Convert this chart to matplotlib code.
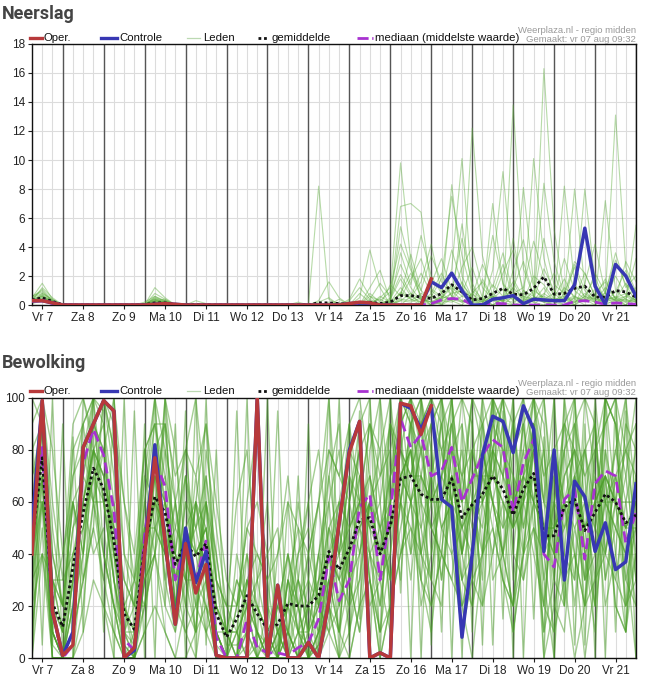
import numpy as np
import matplotlib
matplotlib.use("Agg")
import matplotlib.pyplot as plt
from matplotlib.lines import Line2D

plt.rcParams['font.family'] = ['Liberation Sans', 'DejaVu Sans']

# time axis: 6-hourly steps, vr 7 aug 06:00 .. za 22 aug 00:00
day_labels = ["Vr 7", "Za 8", "Zo 9", "Ma 10", "Di 11", "Wo 12", "Do 13", "Vr 14",
              "Za 15", "Zo 16", "Ma 17", "Di 18", "Wo 19", "Do 20", "Vr 21"]
n_steps = 60
noon_idx = [1 + 4 * k for k in range(15)]
midnight_idx = [3 + 4 * k for k in range(15)]

# ---------------- Neerslag (mm) ----------------
rain_oper = [0.3, 0.3, 0.15, 0, 0, 0, 0, 0, 0, 0,
             0, 0, 0.05, 0.1, 0.05, 0, 0, 0, 0, 0,
             0, 0, 0, 0, 0, 0, 0, 0, 0, 0,
             0, 0.1, 0.2, 0.15, 0, 0, 0, 0, 0, 1.8]
rain_ctrl = [0.3, 0.3, 0.15, 0, 0, 0, 0, 0, 0, 0,
             0, 0, 0.05, 0.1, 0.05, 0, 0, 0, 0, 0,
             0, 0, 0, 0, 0, 0, 0, 0, 0, 0,
             0, 0.1, 0.15, 0.1, 0, 0, 0, 0, 0, 1.6,
             1.2, 2.2, 1.0, 0, 0, 0.4, 0.5, 0.65, 0.1, 0.4,
             0.35, 0.3, 0.3, 1.4, 5.3, 1.3, 0.05, 2.8, 2.0, 0.6]
rain_mean = [0.35, 0.5, 0.25, 0.02, 0, 0, 0, 0, 0, 0,
             0, 0.03, 0.15, 0.15, 0.05, 0.02, 0.05, 0.02, 0, 0,
             0, 0, 0, 0, 0, 0, 0.02, 0.02, 0.15, 0.15,
             0.1, 0.05, 0.15, 0.2, 0.1, 0.2, 0.65, 0.65, 0.55, 0.45,
             0.8, 1.4, 0.9, 0.35, 0.45, 0.8, 1.15, 0.75, 0.7, 1.15,
             1.95, 0.75, 0.8, 1.15, 1.3, 0.55, 0.55, 1.0, 0.9, 0.55]
rain_median = [0.25, 0.3, 0.1, 0, 0, 0, 0, 0, 0, 0,
               0, 0, 0, 0, 0, 0, 0, 0, 0, 0,
               0, 0, 0, 0, 0, 0, 0, 0, 0, 0,
               0, 0, 0, 0, 0, 0, 0, 0, 0, 0.1,
               0.35, 0.45, 0.4, 0, 0.05, 0.1, 0.1, 0, 0, 0,
               0, 0, 0, 0.25, 0.3, 0.2, 0.05, 0.15, 0.1, 0.05]
rain_members = [
    [0.5, 1.5, 0.4, 0, 0, 0, 0, 0, 0, 0, 0, 0.2, 0.6, 0.3, 0, 0, 0.1, 0, 0, 0,
     0, 0, 0, 0, 0, 0, 0, 0, 0.2, 0.5, 0, 0.3, 1.2, 0.4, 0, 0.5, 2.1, 0.8, 0, 1.5,
     3.2, 1.0, 0.3, 0, 1.8, 0.5, 0, 2.4, 4.5, 1.2, 0.3, 0, 0.8, 2.6, 0.4, 0, 0.9, 3.1, 1.4, 0.2],
    [0.3, 1.2, 0.5, 0, 0, 0, 0, 0, 0, 0, 0, 0, 1.2, 0.5, 0, 0, 0, 0, 0, 0,
     0, 0, 0, 0, 0, 0, 0, 0, 8.2, 0.4, 0, 0, 0.5, 3.8, 1.2, 0, 0, 0.6, 2.2, 0.8,
     0, 0.4, 1.6, 0.3, 0, 0.8, 2.8, 0.5, 0, 0.3, 16.3, 5.2, 0.8, 0, 0.6, 1.9, 0.3, 0, 0.5, 1.2],
    [0.2, 0.8, 0.3, 0, 0, 0, 0, 0, 0, 0, 0, 0.1, 0.4, 0.2, 0, 0, 0, 0, 0, 0,
     0, 0, 0, 0, 0, 0, 0, 0, 0, 0, 0, 0.2, 0, 0.6, 0.3, 0.9, 9.8, 3.0, 0.5, 0,
     0.2, 2.5, 10.1, 1.2, 0.4, 0, 0.5, 1.6, 0.2, 0, 0.7, 2.2, 0.4, 0, 1.5, 4.2, 0.8, 0.3, 0, 0.6],
    [0.6, 1.0, 0.2, 0, 0, 0, 0, 0, 0, 0, 0, 0, 0.3, 0.1, 0, 0, 0.3, 0.1, 0, 0,
     0, 0, 0, 0, 0, 0, 0.2, 0, 0, 0, 0.4, 0, 0, 1.2, 2.4, 0.3, 6.8, 7.0, 6.4, 1.1,
     0.6, 0.3, 0, 0.8, 0.2, 1.4, 0.6, 0, 0.3, 2.0, 1.4, 0.4, 0, 0.2, 0.8, 0.3, 7.2, 1.0, 0.4, 0],
    [0.4, 0.6, 0.2, 0, 0, 0, 0, 0, 0, 0, 0, 0, 0.8, 0.4, 0, 0, 0, 0, 0, 0,
     0, 0, 0, 0, 0, 0, 0, 0, 0, 0, 0, 0, 0.8, 0.2, 0, 0, 0.5, 1.8, 3.2, 1.0,
     0.4, 8.3, 2.0, 0.5, 0, 0.3, 0, 13.8, 2.5, 0.6, 0.2, 0, 1.2, 0.6, 0.3, 1.1, 0.4, 2.0, 0.7, 0.3],
    [0.3, 0.5, 0.1, 0, 0, 0, 0, 0, 0, 0, 0, 0, 0.2, 0.3, 0, 0, 0, 0, 0, 0,
     0, 0, 0, 0, 0, 0, 0, 0, 0.3, 1.6, 0.5, 0, 0, 0.3, 0, 0.2, 1.2, 0.4, 0, 0.6,
     1.8, 7.5, 3.4, 0.8, 0, 0.4, 1.1, 0.3, 8.1, 1.5, 0.4, 0.8, 0.2, 0, 0.4, 0.2, 0.6, 13.1, 2.6, 0.9],
    [0.2, 0.4, 0.3, 0, 0, 0, 0, 0, 0, 0, 0, 0, 0.5, 0.1, 0, 0, 0, 0, 0, 0,
     0, 0, 0, 0, 0, 0, 0, 0, 0, 0, 0, 0, 0, 0.4, 1.5, 0.6, 2.8, 1.2, 0.3, 0,
     0.5, 1.2, 0.6, 12.2, 3.4, 0.6, 0.2, 0, 1.0, 0.4, 2.5, 1.0, 0.3, 0.5, 2.2, 0.6, 0, 0.4, 1.5, 0.6],
    [0.5, 0.8, 0.4, 0, 0, 0, 0, 0, 0, 0, 0, 0, 0.3, 0.2, 0, 0.1, 0, 0, 0, 0,
     0, 0, 0, 0, 0, 0.1, 0, 0, 0, 0, 0, 0, 0.2, 0, 0, 1.4, 0.6, 3.5, 1.0, 0.3,
     0, 0.9, 4.6, 1.5, 0.2, 7.0, 1.4, 0.5, 0.2, 10.1, 3.2, 0.5, 1.8, 0.4, 0, 0, 0.6, 0.3, 0.2, 5.5],
    [0.1, 0.7, 0.2, 0, 0, 0, 0, 0, 0, 0, 0, 0, 0.4, 0, 0, 0, 0, 0, 0, 0,
     0, 0, 0, 0, 0, 0, 0, 0, 0, 0, 0.2, 0, 0, 0.8, 0.2, 0, 0.9, 0.5, 1.6, 4.2,
     0.8, 0.3, 1.2, 0.4, 0, 2.4, 9.2, 1.8, 0.5, 0.2, 0, 0.3, 8.2, 1.4, 0.6, 0.2, 1.2, 0.5, 0, 0.8],
    [0.4, 1.1, 0.3, 0, 0, 0, 0, 0, 0, 0, 0, 0, 0.1, 0.3, 0, 0, 0, 0, 0, 0,
     0, 0, 0, 0, 0, 0, 0, 0, 0, 0, 0, 0, 0, 0, 0, 0.4, 1.8, 0.6, 0.2, 0.8,
     2.2, 0.6, 0.2, 0.8, 1.6, 0.4, 0, 0.6, 0.8, 0.3, 8.4, 3.0, 0.6, 8.0, 1.2, 0.4, 0.2, 0.9, 2.4, 0.3],
    [0.3, 0.6, 0.1, 0, 0, 0, 0, 0, 0, 0, 0, 0, 0.2, 0.2, 0, 0, 0, 0, 0, 0,
     0, 0, 0, 0, 0, 0, 0, 0, 0, 0, 0, 0, 0, 0.2, 0.4, 0, 0.3, 0.8, 0.4, 0.2,
     0.5, 1.4, 0.8, 2.6, 0.5, 0, 0.4, 1.2, 3.0, 0.6, 0.2, 0.4, 0.6, 0.3, 8.0, 1.5, 0.4, 0.2, 0.6, 3.2],
    [0.2, 0.5, 0.2, 0, 0, 0, 0, 0, 0, 0, 0, 0, 0.3, 0.1, 0, 0, 0, 0, 0, 0,
     0, 0, 0, 0, 0, 0, 0, 0, 0, 0, 0, 0, 0, 0, 0.6, 0.2, 0.8, 2.2, 0.6, 0,
     0.3, 0.5, 5.6, 1.0, 0.3, 0.8, 0.2, 4.6, 0.6, 0.3, 1.2, 0.2, 0, 0.5, 0.3, 0.8, 1.6, 0.4, 0.3, 0.2],
    [0.6, 0.9, 0.3, 0, 0, 0, 0, 0, 0, 0, 0, 0, 0.4, 0.2, 0, 0, 0, 0, 0, 0,
     0, 0, 0, 0, 0, 0, 0, 0, 0, 0, 0, 0, 0, 0, 0, 0, 0.4, 0.3, 0.8, 0.5,
     0.3, 0.2, 0.6, 0.4, 0.2, 0.6, 0.3, 0.5, 0.2, 1.0, 0.5, 0.3, 0.4, 0.6, 0.2, 0.5, 0.8, 0.3, 0.4, 0.2],
    [0.3, 0.4, 0.2, 0, 0, 0, 0, 0, 0, 0, 0, 0, 0.2, 0.1, 0, 0, 0, 0, 0, 0,
     0, 0, 0, 0, 0, 0, 0, 0, 0, 0, 0, 0, 0, 0.2, 0, 0.3, 5.4, 2.6, 0.4, 0.2,
     0.1, 0.5, 0.3, 0.2, 0, 0.4, 0.3, 0.2, 0.6, 0.4, 0.2, 0.5, 0.3, 2.8, 1.0, 0.2, 0.3, 0.6, 0.2, 0.4],
    [0.2, 0.3, 0.1, 0, 0, 0, 0, 0, 0, 0, 0, 0, 0.2, 0, 0, 0, 0, 0, 0, 0,
     0, 0, 0, 0, 0, 0, 0, 0, 0, 0, 0, 0, 0, 0, 0, 0, 0.3, 0.2, 0.5, 0.2,
     0.6, 0.4, 0.2, 0.3, 0.5, 4.8, 1.5, 0.6, 0.3, 0.5, 0.6, 0.3, 0.4, 0.2, 0.3, 0.6, 0.4, 0.5, 0.8, 0.3],
    [0.4, 0.7, 0.2, 0, 0, 0, 0, 0, 0, 0, 0, 0, 0.5, 0.3, 0, 0, 0, 0, 0, 0,
     0, 0, 0, 0, 0, 0, 0, 0, 0, 0.2, 0, 0, 0, 0, 0.2, 0, 0.8, 0.4, 0.2, 0.6,
     0.4, 0.8, 1.0, 0.5, 0.2, 0.6, 0.3, 1.2, 0.4, 0.2, 0.8, 0.3, 0.5, 0.2, 0.6, 0.4, 0.3, 0.4, 0.6, 0.2],
    [0.1, 0.3, 0.1, 0, 0, 0, 0, 0, 0, 0, 0, 0, 0.6, 0.2, 0, 0, 0, 0, 0, 0,
     0, 0, 0, 0, 0, 0, 0, 0, 0, 0, 0, 0.4, 1.8, 0.6, 0, 0.2, 3.6, 1.4, 4.8, 2.0,
     0.8, 3.8, 1.4, 0.6, 2.8, 1.2, 3.6, 0.8, 1.2, 4.4, 2.0, 0.6, 3.2, 1.0, 0.4, 2.2, 0.8, 3.6, 1.2, 2.0],
    [0.3, 0.6, 0.2, 0, 0, 0, 0, 0, 0, 0, 0, 0, 0.3, 0.4, 0, 0, 0, 0, 0, 0,
     0, 0, 0, 0, 0, 0, 0, 0, 0, 0, 0, 0, 0, 0, 0.5, 1.2, 4.2, 2.4, 1.0, 3.4,
     1.6, 0.6, 2.6, 4.0, 1.2, 0.4, 2.2, 3.8, 1.0, 0.6, 4.6, 1.4, 0.8, 3.0, 2.2, 0.6, 1.8, 0.4, 3.0, 1.6],
]

# ---------------- Bewolking (%) ----------------
cloud_oper = [40, 99, 18, 1, 5, 81, 90, 99, 95, 0,
              4, 40, 77, 45, 13, 44, 25, 36, 1, 0,
              0, 0, 100, 0, 28, 0, 0, 6, 0, 22,
              52, 79, 91, 0, 2, 0, 98, 97, 86, 97]
cloud_ctrl = [50, 99, 18, 1, 10, 81, 90, 99, 95, 0,
              3, 40, 82, 45, 13, 50, 29, 41, 1, 0,
              0, 0, 100, 0, 28, 0, 0, 6, 0, 22,
              52, 80, 91, 0, 2, 0, 98, 96, 88, 97,
              61, 58, 8, 40, 78, 93, 91, 79, 97, 88,
              41, 80, 30, 68, 62, 41, 52, 34, 37, 67]
cloud_mean = [45, 77, 21, 12, 35, 56, 73, 65, 45, 17,
              11, 43, 62, 56, 36, 44, 39, 44, 17, 8,
              15, 24, 17, 11, 13, 21, 20, 20, 24, 41,
              34, 42, 53, 54, 40, 51, 69, 70, 63, 61,
              61, 69, 54, 59, 63, 70, 65, 55, 65, 71,
              47, 47, 58, 61, 49, 56, 63, 60, 52, 55]
cloud_median = [55, 81, 18, 0, 5, 75, 88, 78, 57, 7,
                3, 47, 76, 66, 30, 45, 30, 45, 8, 0,
                0, 15, 4, 2, 2, 1, 4, 6, 15, 39,
                22, 30, 58, 63, 30, 56, 92, 81, 86, 70,
                72, 81, 60, 69, 78, 84, 81, 56, 75, 84,
                40, 35, 61, 65, 38, 67, 72, 70, 44, 56]
cloud_members = [
    [30, 95, 10, 0, 20, 70, 100, 90, 40, 5, 0, 60, 90, 70, 20, 50, 30, 60, 5, 0,
     0, 10, 0, 0, 5, 30, 10, 0, 5, 40, 20, 60, 90, 100, 40, 70, 100, 100, 80, 60,
     90, 100, 40, 60, 100, 100, 90, 30, 60, 100, 40, 10, 80, 100, 60, 30, 100, 90, 20, 70],
    [60, 100, 40, 20, 60, 30, 50, 100, 80, 10, 5, 20, 40, 80, 60, 20, 60, 30, 0, 0,
     20, 40, 5, 0, 0, 10, 40, 60, 20, 70, 90, 30, 10, 60, 80, 100, 60, 40, 100, 70,
     30, 60, 100, 90, 40, 80, 100, 60, 90, 50, 10, 80, 60, 30, 100, 90, 40, 60, 100, 30],
    [20, 70, 0, 0, 10, 80, 100, 40, 20, 0, 0, 40, 80, 30, 10, 70, 40, 20, 0, 0,
     0, 5, 30, 60, 10, 0, 0, 10, 40, 20, 0, 20, 50, 30, 10, 40, 90, 100, 60, 90,
     100, 80, 30, 20, 60, 100, 70, 100, 40, 90, 100, 60, 20, 90, 40, 10, 70, 30, 60, 80],
    [80, 90, 20, 10, 70, 90, 60, 80, 100, 40, 20, 80, 50, 40, 60, 30, 10, 70, 40, 10,
     0, 0, 10, 5, 0, 60, 20, 0, 10, 30, 60, 80, 70, 30, 0, 20, 60, 80, 40, 30,
     70, 100, 60, 100, 90, 30, 40, 80, 100, 100, 60, 30, 100, 70, 20, 60, 90, 100, 40, 0],
    [10, 60, 0, 0, 0, 40, 90, 60, 30, 5, 0, 10, 60, 90, 40, 80, 100, 60, 10, 0,
     0, 0, 0, 0, 20, 10, 0, 30, 60, 100, 40, 10, 30, 80, 100, 60, 30, 90, 100, 80,
     50, 40, 10, 30, 80, 60, 40, 20, 70, 100, 80, 40, 90, 60, 30, 100, 60, 20, 10, 60],
    [50, 100, 60, 30, 90, 100, 80, 20, 10, 0, 0, 30, 40, 10, 0, 20, 60, 90, 30, 0,
     10, 60, 90, 20, 0, 0, 10, 5, 0, 20, 50, 90, 100, 70, 30, 10, 100, 60, 20, 40,
     80, 60, 20, 0, 40, 90, 100, 70, 30, 60, 0, 20, 40, 90, 100, 70, 30, 60, 80, 90],
    [40, 80, 10, 0, 10, 30, 60, 100, 100, 60, 30, 70, 100, 80, 30, 10, 0, 30, 0, 0,
     0, 0, 0, 10, 0, 40, 20, 0, 0, 10, 0, 0, 20, 60, 40, 90, 80, 100, 90, 100,
     60, 90, 100, 70, 20, 40, 60, 10, 40, 80, 30, 0, 60, 80, 50, 20, 100, 90, 70, 40],
    [70, 90, 30, 10, 50, 60, 40, 50, 20, 0, 10, 50, 70, 30, 60, 80, 40, 50, 20, 10,
     30, 20, 0, 0, 0, 0, 30, 60, 80, 40, 10, 60, 80, 40, 10, 70, 90, 40, 60, 30,
     20, 70, 60, 100, 100, 80, 50, 90, 60, 40, 20, 70, 30, 0, 20, 80, 100, 60, 30, 50],
    [30, 60, 20, 40, 60, 40, 100, 100, 70, 20, 5, 30, 50, 100, 80, 40, 20, 10, 0, 0,
     0, 30, 10, 0, 0, 20, 0, 0, 10, 60, 80, 40, 60, 20, 30, 80, 40, 60, 80, 100,
     90, 60, 30, 40, 90, 70, 100, 40, 80, 60, 100, 50, 80, 40, 0, 30, 60, 80, 100, 60],
    [50, 70, 5, 0, 30, 80, 60, 30, 60, 30, 20, 60, 40, 20, 10, 30, 70, 40, 10, 0,
     0, 0, 0, 0, 40, 70, 30, 10, 20, 30, 10, 30, 60, 90, 60, 20, 70, 80, 40, 20,
     40, 80, 90, 60, 30, 100, 80, 60, 40, 90, 70, 20, 10, 60, 80, 90, 40, 70, 50, 20],
    [100, 90, 20, 0, 10, 50, 80, 70, 40, 10, 0, 20, 70, 60, 20, 10, 20, 60, 30, 10,
     0, 40, 20, 10, 0, 0, 0, 20, 0, 40, 30, 60, 40, 70, 50, 30, 60, 90, 100, 60,
     30, 70, 40, 80, 60, 40, 70, 90, 100, 80, 20, 60, 90, 100, 40, 20, 80, 40, 10, 70],
    [20, 40, 30, 20, 60, 70, 90, 80, 50, 0, 0, 60, 100, 40, 20, 60, 30, 10, 20, 5,
     5, 10, 0, 0, 0, 30, 50, 10, 40, 60, 20, 40, 80, 50, 20, 60, 100, 90, 30, 70,
     100, 60, 20, 40, 70, 100, 30, 20, 60, 90, 40, 80, 60, 20, 60, 90, 30, 50, 70, 100],
    [40, 60, 10, 0, 20, 40, 70, 40, 20, 10, 30, 20, 40, 100, 60, 30, 60, 40, 0, 0,
     40, 20, 0, 0, 10, 0, 10, 40, 20, 10, 50, 20, 30, 60, 70, 90, 60, 30, 70, 90,
     100, 70, 40, 20, 40, 60, 80, 50, 90, 60, 10, 30, 70, 80, 40, 50, 100, 90, 30, 20],
    [60, 80, 30, 10, 40, 60, 80, 90, 60, 20, 10, 70, 60, 40, 50, 70, 20, 30, 10, 10,
     0, 30, 40, 30, 0, 10, 0, 0, 30, 50, 60, 30, 10, 40, 30, 60, 90, 100, 50, 30,
     70, 100, 60, 30, 20, 80, 40, 60, 80, 100, 90, 40, 30, 70, 60, 40, 80, 60, 20, 40],
    [10, 50, 0, 0, 10, 30, 50, 30, 10, 0, 0, 40, 80, 90, 40, 20, 10, 80, 50, 20,
     10, 0, 0, 0, 0, 20, 60, 30, 0, 30, 10, 50, 70, 30, 0, 20, 40, 60, 80, 50,
     40, 30, 70, 100, 80, 60, 40, 20, 70, 90, 60, 100, 40, 30, 80, 60, 20, 40, 90, 80],
    [90, 100, 50, 20, 80, 90, 100, 100, 80, 40, 30, 80, 90, 60, 40, 70, 50, 70, 30, 20,
     60, 80, 30, 10, 20, 40, 10, 0, 0, 30, 40, 70, 60, 90, 80, 30, 50, 70, 90, 100,
     80, 50, 30, 60, 40, 80, 100, 90, 50, 70, 30, 60, 80, 90, 70, 20, 50, 80, 60, 30],
    [0, 70, 0, 0, 0, 20, 60, 40, 20, 0, 0, 30, 40, 60, 30, 50, 60, 30, 0, 0,
     0, 10, 20, 0, 0, 30, 20, 40, 60, 20, 0, 10, 40, 60, 30, 40, 70, 60, 30, 10,
     50, 60, 80, 40, 70, 50, 30, 10, 40, 60, 80, 30, 20, 50, 30, 60, 70, 20, 10, 40],
    [30, 80, 20, 10, 30, 60, 90, 80, 40, 20, 0, 40, 60, 70, 50, 40, 30, 20, 10, 0,
     20, 50, 60, 40, 50, 10, 0, 20, 40, 70, 40, 70, 50, 40, 20, 50, 80, 70, 90, 40,
     60, 90, 40, 70, 80, 60, 40, 70, 60, 90, 50, 70, 60, 40, 20, 80, 60, 50, 40, 60],
    [50, 90, 40, 20, 50, 70, 60, 60, 30, 10, 20, 20, 50, 40, 20, 40, 10, 60, 40, 10,
     10, 0, 0, 20, 10, 20, 30, 10, 0, 50, 30, 20, 70, 50, 60, 90, 70, 80, 40, 70,
     90, 40, 50, 80, 60, 70, 90, 40, 30, 50, 40, 60, 50, 70, 80, 50, 40, 70, 80, 50],
    [60, 60, 30, 30, 40, 50, 70, 60, 50, 30, 20, 50, 50, 60, 40, 30, 60, 50, 20, 10,
     30, 20, 10, 0, 20, 40, 20, 30, 20, 40, 60, 50, 60, 50, 40, 60, 70, 60, 70, 60,
     60, 70, 50, 60, 70, 70, 60, 50, 60, 70, 40, 50, 60, 60, 50, 60, 70, 60, 50, 60],
    [40, 70, 10, 0, 20, 90, 100, 60, 30, 10, 0, 50, 80, 60, 20, 50, 40, 50, 20, 10,
     10, 20, 30, 40, 10, 0, 20, 0, 30, 80, 70, 90, 60, 40, 50, 30, 60, 90, 70, 50,
     40, 80, 70, 50, 60, 90, 80, 70, 50, 80, 60, 50, 70, 80, 30, 40, 60, 70, 50, 60],
    [20, 90, 20, 0, 40, 50, 70, 80, 30, 0, 0, 30, 70, 40, 30, 60, 50, 30, 0, 0,
     0, 30, 10, 0, 10, 20, 40, 50, 20, 10, 20, 40, 50, 60, 40, 50, 60, 50, 40, 60,
     70, 60, 50, 40, 70, 60, 50, 60, 70, 60, 50, 40, 50, 60, 50, 70, 60, 50, 40, 50],
    [70, 80, 30, 20, 60, 40, 80, 70, 50, 20, 10, 40, 60, 50, 40, 30, 30, 40, 10, 0,
     10, 20, 20, 10, 0, 30, 10, 20, 10, 40, 50, 30, 40, 60, 50, 70, 80, 60, 50, 70,
     50, 60, 40, 60, 50, 80, 70, 50, 60, 80, 50, 40, 60, 50, 60, 50, 70, 60, 50, 60],
    [30, 40, 10, 0, 30, 60, 80, 60, 40, 20, 30, 50, 60, 50, 30, 40, 50, 60, 30, 20,
     20, 30, 20, 10, 20, 10, 30, 20, 30, 40, 30, 40, 50, 60, 40, 50, 70, 80, 60, 50,
     60, 70, 50, 60, 60, 70, 60, 50, 70, 60, 50, 50, 60, 60, 50, 60, 60, 60, 50, 50],
    [100, 100, 80, 40, 70, 80, 90, 100, 90, 60, 40, 80, 90, 90, 70, 80, 70, 90, 60, 30,
     20, 50, 40, 30, 40, 60, 50, 40, 60, 80, 70, 60, 80, 90, 70, 80, 100, 90, 80, 90,
     80, 90, 70, 80, 90, 100, 90, 80, 90, 100, 70, 80, 90, 80, 70, 80, 90, 100, 80, 70],
    [0, 40, 0, 0, 0, 10, 30, 20, 0, 0, 0, 10, 20, 10, 0, 0, 10, 20, 0, 0,
     0, 0, 0, 0, 0, 0, 0, 0, 10, 20, 10, 0, 20, 30, 10, 20, 40, 50, 30, 20,
     40, 30, 20, 30, 40, 50, 30, 20, 40, 50, 20, 10, 30, 40, 20, 30, 40, 30, 20, 30],
    [50, 90, 10, 0, 30, 60, 80, 70, 50, 10, 10, 40, 70, 60, 30, 50, 40, 50, 10, 0,
     0, 20, 10, 0, 10, 20, 10, 10, 20, 50, 40, 50, 60, 70, 50, 60, 80, 70, 70, 60,
     70, 80, 60, 70, 70, 80, 70, 60, 70, 80, 50, 50, 60, 70, 50, 60, 70, 60, 60, 60],
    [0, 95, 5, 90, 0, 100, 85, 10, 100, 0, 95, 0, 100, 20, 90, 0, 100, 5, 80, 0,
     0, 100, 0, 10, 95, 0, 70, 0, 5, 100, 0, 90, 15, 100, 0, 100, 25, 100, 0, 85,
     10, 100, 0, 95, 5, 100, 15, 100, 0, 90, 0, 100, 20, 100, 5, 95, 0, 100, 10, 90],
    [90, 5, 100, 0, 85, 10, 100, 95, 0, 100, 5, 90, 0, 100, 15, 95, 0, 100, 10, 0,
     95, 0, 5, 100, 0, 10, 0, 90, 0, 15, 100, 5, 95, 0, 100, 10, 90, 0, 100, 5,
     100, 0, 90, 10, 100, 5, 95, 0, 100, 15, 85, 0, 100, 5, 90, 0, 100, 10, 95, 0],
]

for row in rain_members + cloud_members:
    assert len(row) == n_steps, len(row)

# colours
c_oper = '#b7393b'
c_ctrl = '#3737b3'
c_member = '#4c9f2a'
c_median = '#a832d0'
c_mean = '#111111'

W, H = 649, 685


def px(x, y):
    # pixel position (from top-left) -> figure fraction
    return x / W, 1 - y / H


def draw_legend(fig, y):
    items = [
        (30, 42, 44, 'Oper.', dict(color=c_oper, lw=2.4)),
        (101, 117, 119, 'Controle', dict(color=c_ctrl, lw=2.4)),
        (187, 200, 203, 'Leden', dict(color='#bcd9b2', lw=0.9)),
        (258, 269, 272, 'gemiddelde', dict(color=c_mean, lw=2.0, dashes=(1, 1))),
        (357, 373, 375, 'mediaan (middelste waarde)', dict(color=c_median, lw=2.0, dashes=(4, 1.3))),
    ]
    for x0, x1, xt, lab, kw in items:
        (fx0, fy), (fx1, _) = px(x0, y), px(x1, y)
        fig.add_artist(Line2D([fx0, fx1], [fy, fy], transform=fig.transFigure, **kw))
        fig.text(xt / W, fy, lab, fontsize=8.2, color='#111111', ha='left', va='center')
    fig.text(636 / W, 1 - (y - 7.5) / H, "Weerplaza.nl - regio midden", fontsize=6.8,
             color='#9a9a9a', ha='right', va='center')
    fig.text(636 / W, 1 - (y + 1.5) / H, "Gemaakt: vr 07 aug 09:32", fontsize=6.8,
             color='#9a9a9a', ha='right', va='center')


def draw_panel(ax, members, median, mean, ctrl, oper, ymax, yticks, member_color,
               member_alpha, member_lw):
    x = np.arange(n_steps)
    ax.set_xlim(0, n_steps - 1)
    ax.set_ylim(0, ymax)

    # grid: light every 6 h, dark at midnight
    for i in range(n_steps):
        ax.axvline(i, color='#dcdcdc', lw=0.8, zorder=0)
    for yt in yticks:
        ax.axhline(yt, color='#dcdcdc', lw=0.8, zorder=0)
    for i in midnight_idx:
        ax.axvline(i, color='#555555', lw=1.0, zorder=0.5)

    for m in members:
        ax.plot(x, m, color=member_color, alpha=member_alpha, lw=member_lw, zorder=1)

    ax.plot(x, median, color=c_median, lw=2.0, dashes=(4, 2), zorder=3)
    ax.plot(x, mean, color=c_mean, lw=2.0, dashes=(1, 1), zorder=4)
    ax.plot(x[:len(ctrl)], ctrl, color=c_ctrl, lw=2.5, zorder=5)
    ax.plot(x[:len(oper)], oper, color=c_oper, lw=2.5, zorder=6)

    ax.set_yticks(yticks)
    ax.set_yticklabels([str(v) for v in yticks])
    ax.set_xticks(noon_idx)
    ax.set_xticklabels(day_labels)
    ax.tick_params(axis='both', labelsize=8.5, length=3, width=0.8, pad=2, colors='#222222')
    for s in ax.spines.values():
        s.set_color('#111111')
        s.set_linewidth(1.0)


fig = plt.figure(figsize=(W / 100, H / 100), dpi=100)

ax1 = fig.add_axes([0.0493, 0.5547, 0.9307, 0.3811])
draw_panel(ax1, rain_members, rain_median, rain_mean, rain_ctrl, rain_oper,
           18, list(range(0, 19, 2)), '#5fae3e', 0.45, 0.8)
draw_legend(fig, 38)

ax2 = fig.add_axes([0.0493, 0.0394, 0.9307, 0.3796])
draw_panel(ax2, cloud_members, cloud_median, cloud_mean, cloud_ctrl, cloud_oper,
           100, list(range(0, 101, 20)), c_member, 0.5, 1.0)
draw_legend(fig, 391)

for title, ytop in [("Neerslag", 14), ("Bewolking", 363)]:
    fig.text(0.003, 1 - ytop / H, title, fontsize=13, fontweight='bold', family='Roboto',
             color='#444444', ha='left', va='center')

fig.savefig("out.png", dpi=100)
